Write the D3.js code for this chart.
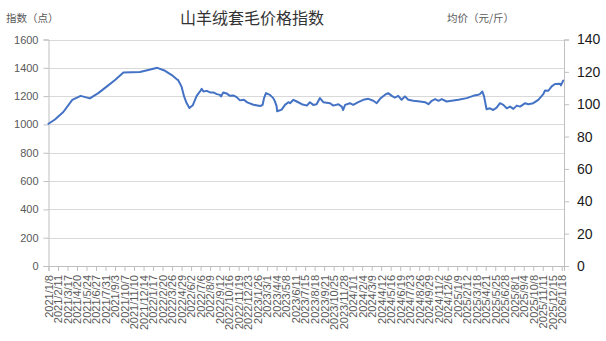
<!DOCTYPE html>
<html>
<head>
<meta charset="utf-8">
<script src="https://cdn.jsdelivr.net/npm/d3@7"></script>
<style>
  body { margin: 0; background: #fff; }
  svg { display: block; }
</style>
</head>
<body>
<div id="chart"></div>
<script>
// DATA
const titleText = "山羊绒套毛价格指数";
const leftAxisTitle = "指数（点）";
const rightAxisTitle = "均价（元/斤）";

const dates = [
  "2021-01-08","2021-01-31","2021-03-02","2021-04-03","2021-05-03","2021-06-05","2021-07-05","2021-08-04",
  "2021-09-03","2021-10-03","2021-12-01","2021-12-31","2022-02-01","2022-03-01","2022-03-25","2022-04-12",
  "2022-04-16","2022-04-29","2022-05-08","2022-05-17","2022-05-27","2022-06-08","2022-06-22","2022-07-04",
  "2022-07-10","2022-07-16","2022-07-28","2022-08-09","2022-08-21","2022-09-02","2022-09-13","2022-09-17",
  "2022-09-25","2022-10-07","2022-10-19","2022-10-31","2022-11-12","2022-11-24","2022-12-08","2022-12-20",
  "2023-01-11","2023-02-04","2023-02-13","2023-02-18","2023-02-25","2023-03-11","2023-03-23","2023-03-29",
  "2023-04-04","2023-04-06","2023-04-22","2023-05-04","2023-05-16","2023-05-22","2023-06-03","2023-06-15",
  "2023-07-03","2023-07-21","2023-08-01","2023-08-13","2023-08-25","2023-09-06","2023-09-18","2023-10-12",
  "2023-10-24","2023-11-11","2023-11-23","2023-11-28","2023-12-05","2023-12-22","2024-01-03","2024-01-21",
  "2024-02-08","2024-02-26","2024-03-15","2024-03-27","2024-04-08","2024-04-26","2024-05-07","2024-05-20",
  "2024-05-31","2024-06-12","2024-06-24","2024-07-06","2024-07-18","2024-08-05","2024-08-29","2024-09-16",
  "2024-09-28","2024-10-10","2024-10-22","2024-11-03","2024-11-15","2024-12-02","2024-12-20","2025-01-13",
  "2025-02-12","2025-03-07","2025-03-25","2025-03-31","2025-04-09","2025-04-15","2025-04-24","2025-05-06",
  "2025-05-18","2025-05-30","2025-06-11","2025-06-23","2025-07-05","2025-07-17","2025-07-29","2025-08-10",
  "2025-08-22","2025-09-09","2025-09-20","2025-10-08","2025-10-26","2025-11-13","2025-11-19","2025-12-01",
  "2025-12-13","2025-12-25","2026-01-12","2026-01-15","2026-01-23"
];

const indexValues = [
  1005,1035,1088,1174,1202,1184,1221,1267,
  1314,1367,1370,1384,1400,1379,1349,1319,
  1315,1267,1198,1151,1116,1135,1202,1233,
  1251,1233,1237,1226,1226,1214,1209,1198,
  1226,1219,1202,1205,1193,1170,1174,1156,
  1139,1130,1139,1186,1221,1209,1186,1163,
  1128,1093,1105,1138,1157,1150,1174,1162,
  1143,1133,1157,1138,1143,1186,1157,1150,
  1133,1143,1126,1102,1138,1150,1138,1157,
  1174,1181,1167,1150,1181,1210,1221,1202,
  1190,1202,1174,1198,1174,1167,1162,1157,
  1143,1167,1179,1167,1179,1162,1167,1174,
  1186,1202,1210,1214,1233,1198,1107,1114,
  1102,1119,1150,1138,1114,1126,1110,1133,
  1126,1150,1143,1150,1174,1214,1240,1238,
  1269,1286,1288,1276,1310
];

const tickLabels = [
  "2021/1/8","2021/2/11","2021/3/17","2021/4/20","2021/5/24","2021/6/27","2021/7/31","2021/9/3",
  "2021/10/7","2021/11/10","2021/12/14","2022/1/17","2022/2/20","2022/3/26","2022/4/29","2022/6/2",
  "2022/7/6","2022/8/9","2022/9/12","2022/10/16","2022/11/19","2022/12/23","2023/1/26","2023/3/1",
  "2023/4/4","2023/5/8","2023/6/11","2023/7/15","2023/8/18","2023/9/21","2023/10/25","2023/11/28",
  "2024/1/1","2024/2/4","2024/3/9","2024/4/12","2024/5/16","2024/6/19","2024/7/23","2024/8/26",
  "2024/9/29","2024/11/2","2024/12/6","2025/1/9","2025/2/12","2025/3/18","2025/4/21","2025/5/25",
  "2025/6/28","2025/8/1","2025/9/4","2025/10/8","2025/11/11","2025/12/15","2026/1/18"
];

const leftTicks = [0, 200, 400, 600, 800, 1000, 1200, 1400, 1600];
const rightTicks = [0, 20, 40, 60, 80, 100, 120, 140];

// SETUP
const width = 606, height = 341;
const plot = {left: 48.5, right: 564, top: 39.5, bottom: 266};
const parseDay = d3.timeParse("%Y-%m-%d");
const parseTick = d3.timeParse("%Y/%m/%d");

const series = dates.map((d, i) => ({date: parseDay(d), value: indexValues[i]}));
const tickDates = tickLabels.map(t => parseTick(t));

const x = d3.scaleTime()
    .domain([parseDay("2021-01-08"), parseDay("2026-01-26")])
    .range([plot.left, plot.right]);

const yLeft = d3.scaleLinear().domain([0, 1600]).range([plot.bottom, plot.top]);
const yRight = d3.scaleLinear().domain([0, 140]).range([plot.bottom, plot.top]);

const svg = d3.select("#chart").append("svg")
    .attr("width", width)
    .attr("height", height)
    .style("font-family", "'Liberation Sans', Arial, sans-serif");

// gridlines
svg.append("g")
    .selectAll("line")
    .data(leftTicks.slice(1))
    .enter().append("line")
    .attr("x1", plot.left)
    .attr("x2", plot.right)
    .attr("y1", d => Math.round(yLeft(d)) + 0.5)
    .attr("y2", d => Math.round(yLeft(d)) + 0.5)
    .style("stroke", "#d9d9d9")
    .style("stroke-width", 1);

// left axis
const gLeft = svg.append("g")
    .attr("transform", `translate(${plot.left},0)`)
    .call(d3.axisLeft(yLeft).tickValues(leftTicks).tickFormat(d3.format("d"))
        .tickSize(5).tickPadding(5));
gLeft.select(".domain").style("stroke", "#bfbfbf");
gLeft.selectAll(".tick line").style("stroke", "#bfbfbf");
gLeft.selectAll(".tick text")
    .style("font-size", "11px")
    .style("fill", "#595959")
    .style("font-family", "'Liberation Sans', Arial, sans-serif");

// right axis
const gRight = svg.append("g")
    .attr("transform", `translate(${plot.right},0)`)
    .call(d3.axisRight(yRight).tickValues(rightTicks).tickSize(5).tickPadding(8));
gRight.select(".domain").style("stroke", "#bfbfbf");
gRight.selectAll(".tick line").style("stroke", "#bfbfbf");
gRight.selectAll(".tick text")
    .style("font-size", "14px")
    .style("fill", "#1a1a1a")
    .style("font-family", "'Liberation Sans', Arial, sans-serif");

// bottom axis
const gBottom = svg.append("g")
    .attr("transform", `translate(0,${plot.bottom})`)
    .call(d3.axisBottom(x).tickValues(tickDates).tickSize(5)
        .tickFormat((d, i) => tickLabels[i]));
gBottom.select(".domain").style("stroke", "#bfbfbf");
gBottom.selectAll(".tick line").style("stroke", "#bfbfbf");
gBottom.selectAll(".tick text")
    .style("font-size", "11px")
    .style("fill", "#595959")
    .style("font-family", "'Liberation Sans', Arial, sans-serif")
    .attr("text-anchor", "end")
    .attr("dy", "0.35em")
    .attr("transform", "translate(0,9) rotate(-90)")
    .attr("x", 0)
    .attr("y", 0);

// line
const line = d3.line()
    .x(d => x(d.date))
    .y(d => yLeft(d.value));

svg.append("path")
    .datum(series)
    .attr("d", line)
    .style("fill", "none")
    .style("stroke", "#4472c4")
    .style("stroke-width", 2)
    .style("stroke-linejoin", "round")
    .style("stroke-linecap", "round");

// titles
svg.append("text")
    .attr("x", 252)
    .attr("y", 24)
    .attr("text-anchor", "middle")
    .style("font-family", "'Noto Sans CJK SC', sans-serif")
    .style("font-size", "16px")
    .style("fill", "#333")
    .text(titleText);

svg.append("text")
    .attr("x", 6)
    .attr("y", 22)
    .style("font-family", "'Noto Sans CJK SC', sans-serif")
    .style("font-size", "10.5px")
    .style("fill", "#595959")
    .text(leftAxisTitle);

svg.append("text")
    .attr("x", 447)
    .attr("y", 22)
    .style("font-family", "'Noto Sans CJK SC', sans-serif")
    .style("font-size", "10.5px")
    .style("fill", "#595959")
    .text(rightAxisTitle);
</script>
</body>
</html>
